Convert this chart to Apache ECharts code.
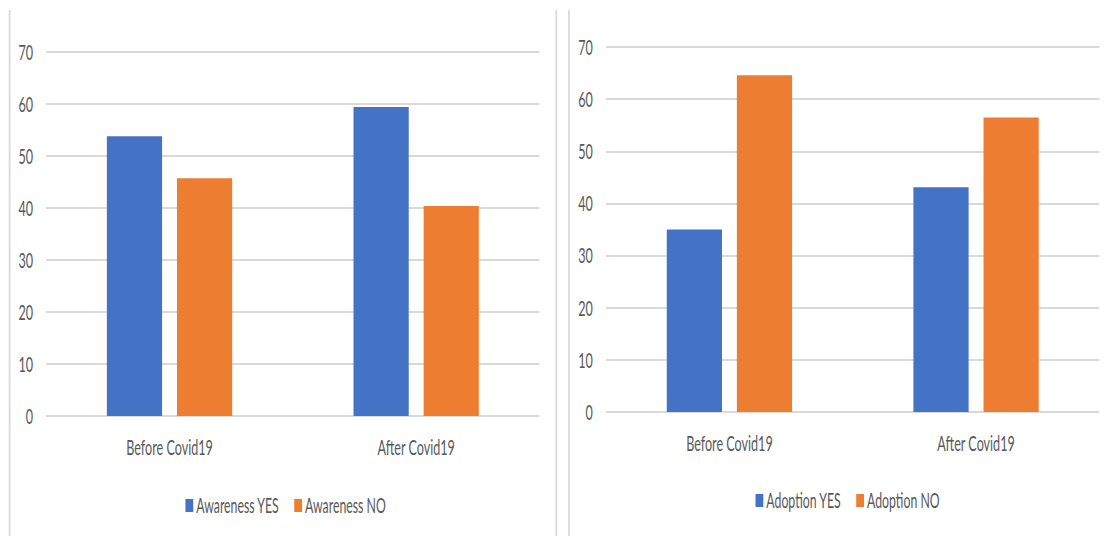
<!DOCTYPE html>
<html>
<head>
<meta charset="utf-8">
<script src="https://cdn.jsdelivr.net/npm/echarts@6/dist/echarts.min.js"></script>
<style>
  html, body { margin: 0; padding: 0; background: #fff; width: 1112px; height: 536px; overflow: hidden; }
  /* charts are laid out wide and then condensed horizontally */
  #stage { width: 1853px; height: 536px; transform: scaleX(0.6001); transform-origin: 0 0; }
</style>
</head>
<body>
<div id="stage"></div>
<script>
// Survey shares (%) before and after Covid19
const categories = ['Before Covid19', 'After Covid19'];
const awarenessYes = [53.8, 59.4];
const awarenessNo = [45.7, 40.4];
const adoptionYes = [35.0, 43.1];
const adoptionNo = [64.6, 56.5];
const valueMin = 0;
const valueMax = 70;
const valueStep = 10;

const BLUE = '#4472C4';
const ORANGE = '#ED7D31';
const TEXT = '#595959';
const GRID = '#D9D9D9';
const FONT = 'Lato, "Liberation Sans", sans-serif';

const chart = echarts.init(document.getElementById('stage'), null, { renderer: 'svg' });

function valueAxis(gridIndex) {
  return {
    type: 'value', gridIndex,
    min: valueMin, max: valueMax, interval: valueStep,
    axisLine: { show: false }, axisTick: { show: false },
    axisLabel: { color: TEXT, fontFamily: FONT, fontSize: 21, margin: 22 },
    splitLine: { lineStyle: { color: GRID, width: 2 } }
  };
}
function categoryAxis(gridIndex) {
  return {
    type: 'category', gridIndex, data: categories,
    axisLine: { show: false }, axisTick: { show: false },
    axisLabel: { color: TEXT, fontFamily: FONT, fontSize: 21, margin: 21 }
  };
}
function barSeries(name, data, color, idx) {
  return {
    type: 'bar', name, data, xAxisIndex: idx, yAxisIndex: idx,
    barWidth: 92, barGap: '27%',
    itemStyle: { color },
    emphasis: { disabled: true }
  };
}
const legendText = { color: TEXT, fontFamily: FONT, fontSize: 20.5 };

chart.setOption({
  animation: false,
  backgroundColor: '#ffffff',
  grid: [
    { left: 77, width: 822, top: 52, height: 364 },
    { left: 1010, width: 822, top: 47, height: 365 }
  ],
  xAxis: [categoryAxis(0), categoryAxis(1)],
  yAxis: [valueAxis(0), valueAxis(1)],
  legend: [
    { data: ['Awareness YES', 'Awareness NO'], left: 304, top: 490, icon: 'rect',
      itemWidth: 13, itemHeight: 13, itemGap: 25, textStyle: legendText, selectedMode: false },
    { data: ['Adoption YES', 'Adoption NO'], left: 1254, top: 485, icon: 'rect',
      itemWidth: 13, itemHeight: 13, itemGap: 25, textStyle: legendText, selectedMode: false }
  ],
  series: [
    barSeries('Awareness YES', awarenessYes, BLUE, 0),
    barSeries('Awareness NO', awarenessNo, ORANGE, 0),
    barSeries('Adoption YES', adoptionYes, BLUE, 1),
    barSeries('Adoption NO', adoptionNo, ORANGE, 1)
  ],
  graphic: [
    // chart frame edges
    { type: 'line', shape: { x1: 16, y1: 10, x2: 16, y2: 540 }, style: { stroke: GRID, lineWidth: 3 } },
    { type: 'line', shape: { x1: 927, y1: 10, x2: 927, y2: 540 }, style: { stroke: GRID, lineWidth: 3 } },
    { type: 'line', shape: { x1: 948, y1: 10, x2: 948, y2: 540 }, style: { stroke: GRID, lineWidth: 3 } }
  ]
});
</script>
</body>
</html>
